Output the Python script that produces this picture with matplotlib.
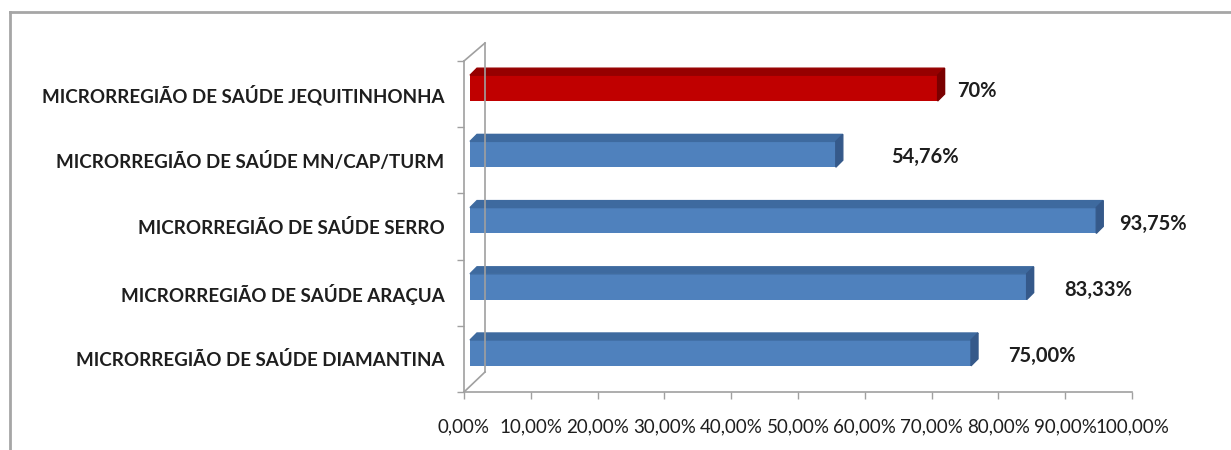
import numpy as np
import matplotlib
matplotlib.use('Agg')
import matplotlib.pyplot as plt
from matplotlib.patches import Polygon
from matplotlib.lines import Line2D
from matplotlib.transforms import offset_copy, IdentityTransform
from matplotlib.ticker import FuncFormatter, MultipleLocator

# data (top to bottom as in the chart)
categories = ['MICRORREGIÃO DE SAÚDE JEQUITINHONHA',
              'MICRORREGIÃO DE SAÚDE MN/CAP/TURM',
              'MICRORREGIÃO DE SAÚDE SERRO',
              'MICRORREGIÃO DE SAÚDE ARAÇUA',
              'MICRORREGIÃO DE SAÚDE DIAMANTINA']
values = [0.70, 0.5476, 0.9375, 0.8333, 0.75]
value_labels = ['70%', '54,76%', '93,75%', '83,33%', '75,00%']
highlight = [True, False, False, False, False]

# label gaps (pixels) as placed by hand in the original
label_gap = [20, 55, 23, 38, 37]

W, H = 1231, 450
fig = plt.figure(figsize=(W/100, H/100), dpi=100)
ax = fig.add_axes([464/W, (H-392)/H, (1132-464)/W, (392-61)/H])

ypos = np.arange(len(categories))[::-1]
ax.set_xlim(0, 1)
ax.set_ylim(-0.5, len(categories)-0.5)

gray = '#a0a0a0'
txt = '#1e1e1e'

# bars sit a bit behind the front plane
tr = offset_copy(ax.transData, fig=fig, x=6, y=6, units='dots')
h = 0.39
dx = 7/668
dy = 7/(331/len(categories))

for y, v, hl in zip(ypos, values, highlight):
    if hl:
        front, top, side = '#c00000', '#960000', '#7a0000'
    else:
        front, top, side = '#4f81bd', '#3e6a9f', '#35598a'
    ax.barh(y, v, height=h, color=front, transform=tr, zorder=3)
    ax.add_patch(Polygon([(0, y+h/2), (v, y+h/2), (v+dx, y+h/2+dy), (dx, y+h/2+dy)],
                         closed=True, color=top, transform=tr, zorder=3, clip_on=False))
    ax.add_patch(Polygon([(v, y-h/2), (v, y+h/2), (v+dx, y+h/2+dy), (v+dx, y-h/2+dy)],
                         closed=True, color=side, transform=tr, zorder=3, clip_on=False))

for y, v, s, g in zip(ypos, values, value_labels, label_gap):
    t = offset_copy(ax.transData, fig=fig, x=6+g, y=3, units='dots')
    ax.text(v, y, s, transform=t, ha='left', va='center', fontsize=14.5,
            fontweight='bold', family='Lato', color=txt)

# axes styling
for sp in ['top', 'right']:
    ax.spines[sp].set_visible(False)
for sp in ['left', 'bottom']:
    ax.spines[sp].set_color(gray)
    ax.spines[sp].set_linewidth(1.2)

ax.set_yticks(ypos)
ax.set_yticklabels(categories, fontsize=13.5, fontweight='bold', family='Lato', color=txt)
ax.tick_params(axis='y', which='major', length=0, pad=14)
ax.set_yticks(np.arange(-0.5, len(categories)), minor=True)
ax.tick_params(axis='y', which='minor', length=5, color=gray, width=1)

ax.xaxis.set_major_locator(MultipleLocator(0.1))
ax.xaxis.set_major_formatter(FuncFormatter(lambda x, p: ('%.2f%%' % (x*100)).replace('.', ',')))
ax.tick_params(axis='x', length=5, color=gray, width=1, pad=14, labelsize=13.5, labelcolor=txt)
for lab in ax.get_xticklabels():
    lab.set_family('Lato')

# back wall of the 3D box
fig.canvas.draw()
x0, y0 = ax.transAxes.transform((0, 0))
x1, y1 = ax.transAxes.transform((0, 1))
for a, b in [((x0, y0), (x0+21, y0+20)), ((x1, y1), (x1+21, y1+18)),
             ((x0+21, y0+20), (x1+21, y1+18))]:
    fig.add_artist(Line2D([a[0], b[0]], [a[1], b[1]], color=gray, lw=1.2,
                          transform=IdentityTransform(), zorder=1))

# outer chart frame (cropped on right/bottom)
fig.add_artist(Line2D([10/W, 10/W], [0, 1-12/H], color='#a6a6a6', lw=2, transform=fig.transFigure))
fig.add_artist(Line2D([10/W, 1], [1-12/H, 1-12/H], color='#a6a6a6', lw=2, transform=fig.transFigure))

fig.savefig('out.png', dpi=100)
